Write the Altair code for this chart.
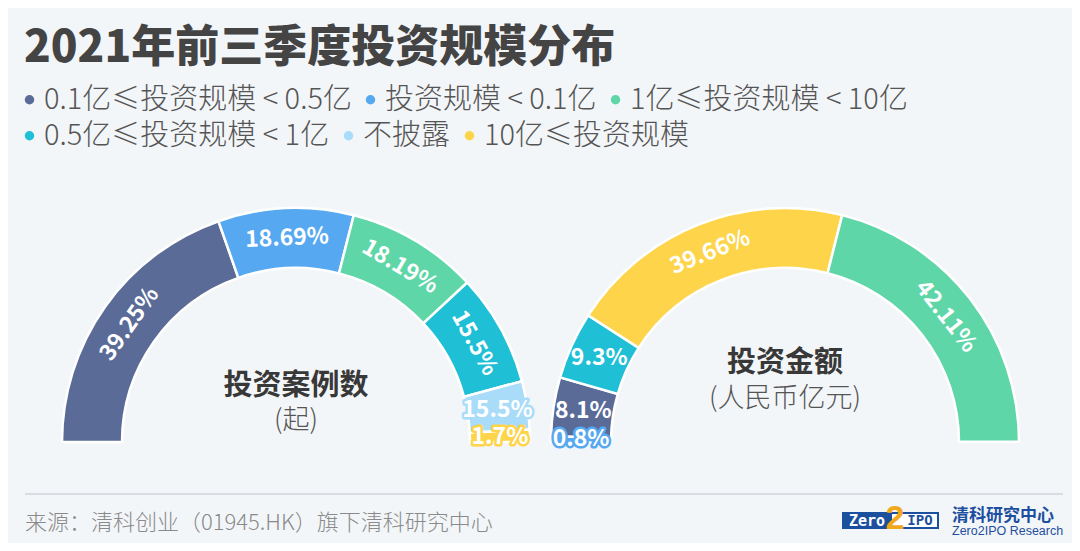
import altair as alt
import pandas as pd
import numpy as np

FONT = "Noto Sans CJK SC"
LEG_FONT = "Noto Sans CJK SC"

# ---- data -------------------------------------------------------------
categories = ["0.1亿≤投资规模 < 0.5亿", "投资规模 < 0.1亿", "1亿≤投资规模 < 10亿",
              "0.5亿≤投资规模 < 1亿", "不披露", "10亿≤投资规模"]
colors = ["#5a6b98", "#56a9f1", "#5fd6a8", "#1fbfd6", "#a9dcf8", "#fdd44a"]

panels = ["投资案例数", "投资金额"]
panel_units = ["(起)", "(人民币亿元)"]

count_cats = [categories[0], categories[1], categories[2], categories[3], categories[4], categories[5]]
count_values = [39.25, 18.69, 18.19, 15.5, 6.67, 1.7]
count_labels = ["39.25%", "18.69%", "18.19%", "15.5%", "15.5%", "1.7%"]

amount_cats = [categories[1], categories[0], categories[3], categories[5], categories[2]]
amount_values = [0.8, 8.1, 9.3, 39.66, 42.11]
amount_labels = ["0.8%", "8.1%", "9.3%", "39.66%", "42.11%"]

source_text = "来源：清科创业（01945.HK）旗下清科研究中心"

# ---- table ------------------------------------------------------------
rows = []
for panel, cats, vals, labs in [(panels[0], count_cats, count_values, count_labels),
                                (panels[1], amount_cats, amount_values, amount_labels)]:
    cum = 0.0
    for c, v, l in zip(cats, vals, labs):
        rows.append(dict(panel=panel, cat=c, value=v, label=l, start=cum, end=cum + v))
        cum += v
df = pd.DataFrame(rows)
panel_df = pd.DataFrame({"panel": panels, "unit": panel_units})

# ---- encodings --------------------------------------------------------
CY = 364
theta_scale = alt.Scale(domain=[0, 100], range=[1.5 * np.pi, 2.5 * np.pi])
x_enc = alt.X("panel:N", scale=alt.Scale(type="point", domain=panels, range=[288, 777], padding=0), axis=None)
color_scale = alt.Scale(domain=categories, range=colors)

leg_common = dict(
    title=None, orient="none", direction="horizontal",
    symbolType="circle", symbolSize=90, symbolStrokeWidth=0, symbolOpacity=1,
    labelFontSize=29, labelFont=LEG_FONT, labelFontWeight=300,
    labelColor="#555555", labelLimit=0, columnPadding=4,
    labelOffset=0, padding=0,
)

base = alt.Chart(df).transform_calculate(
    mid="datum.start + datum.value / 2",
    ang="datum.value >= 10 ? ((datum.start + datum.value / 2) * 1.8 + 270) % 360 : 0",
)

arcs = base.mark_arc(outerRadius=234, innerRadius=174, stroke="white", strokeWidth=2.5).encode(
    x=x_enc,
    y=alt.value(CY),
    theta=alt.Theta("start:Q", scale=theta_scale, stack=None),
    theta2="end:Q",
    color=alt.Color("cat:N", scale=color_scale, legend=alt.Legend(
        values=categories[:3], legendX=7, legendY=7, **leg_common)),
)

# second legend row (own channel and domain so the row flows independently)
legend_row2 = base.transform_filter(
    alt.FieldOneOfPredicate(field="cat", oneOf=categories[3:])
).mark_circle(opacity=0).encode(
    x=x_enc, y=alt.value(CY),
    fill=alt.Fill("cat:N", scale=alt.Scale(domain=categories[3:], range=colors[3:]),
                  legend=alt.Legend(values=categories[3:], legendX=7, legendY=43, **leg_common)),
)

lbl_common = dict(radius=204, font=FONT, fontSize=23, fontWeight="bold", align="center", baseline="middle")

labels_outline = base.transform_filter("datum.value < 8").mark_text(
    fill="white", strokeWidth=5, strokeJoin="round", **lbl_common
).encode(
    x=x_enc, y=alt.value(CY),
    theta=alt.Theta("mid:Q", scale=theta_scale, stack=None),
    stroke=alt.Stroke("cat:N", scale=color_scale, legend=None),
    text="label:N",
    angle=alt.Angle("ang:Q", scale=None),
)

labels = base.mark_text(fill="white", **lbl_common).encode(
    x=x_enc, y=alt.value(CY),
    theta=alt.Theta("mid:Q", scale=theta_scale, stack=None),
    text="label:N",
    angle=alt.Angle("ang:Q", scale=None),
)

def center_text(idx, field, dy, size, weight, color):
    return alt.Chart(panel_df).transform_filter(alt.datum.panel == panels[idx]).mark_text(
        dy=dy, font=FONT, fontSize=size, fontWeight=weight, color=color
    ).encode(x=x_enc, y=alt.value(CY), text=f"{field}:N")

centers = [
    center_text(0, "panel", -56, 29, "bold", "#383838"),
    center_text(0, "unit", -21, 27, 300, "#555555"),
    center_text(1, "panel", -79, 29, "bold", "#383838"),
    center_text(1, "unit", -43, 27, 300, "#555555"),
]

one = pd.DataFrame({"k": [0]})

def ann_text(txt, x, y, size, color, weight="normal", align="left", font=FONT):
    return alt.Chart(one).mark_text(text=txt, font=font, fontSize=size, color=color,
                                    fontWeight=weight, align=align, baseline="middle").encode(
        x=alt.value(x), y=alt.value(y))

def ann_rect(x, x2, y, y2, fill, stroke=None, sw=0):
    kw = dict(fill=fill)
    if stroke:
        kw.update(stroke=stroke, strokeWidth=sw)
    return alt.Chart(one).mark_rect(**kw).encode(
        x=alt.value(x), x2=alt.value(x2), y=alt.value(y), y2=alt.value(y2))

sep = alt.Chart(one).mark_rule(color="#d0d4d8", strokeWidth=1.5).encode(
    x=alt.value(17), x2=alt.value(1055), y=alt.value(416))

footer = [
    sep,
    ann_text(source_text, 17, 445, 22, "#8a8a8a", weight=300),
    ann_rect(835, 930, 435, 450, "white", "#1d4f9f", 2),
    ann_rect(835, 884, 435, 450, "#1d4f9f"),
    ann_text("Zero", 859, 442.5, 15, "white", weight="bold", align="center", font="DejaVu Sans Mono"),
    ann_text("IPO", 912, 442.5, 14, "#1d4f9f", weight="bold", align="center", font="DejaVu Sans Mono"),
    ann_text("2", 887, 441, 34, "#f2a81d", weight="bold", align="center", font="Liberation Sans"),
    ann_text("清科研究中心", 944, 438, 17, "#1d4f9f", weight="bold"),
    ann_text("Zero2IPO Research", 944, 453, 12.5, "#1d4f9f", font="Liberation Sans"),
]

chart = alt.layer(arcs, legend_row2, labels_outline, labels, *centers, *footer).properties(
    width=1064, height=465,
    padding={"left": 0, "top": 70, "right": 0, "bottom": 0},
    autosize=alt.AutoSizeParams(type="none"),
    background="#f3f6f9",
    title=alt.TitleParams("2021年前三季度投资规模分布", anchor="start", fontSize=44, font=FONT,
                          fontWeight=900, color="#444444", dx=16, offset=7),
).resolve_scale(color="independent", fill="independent").configure_view(stroke=None)

chart.save("out.html", embed_options={"renderer": "svg", "actions": False})
